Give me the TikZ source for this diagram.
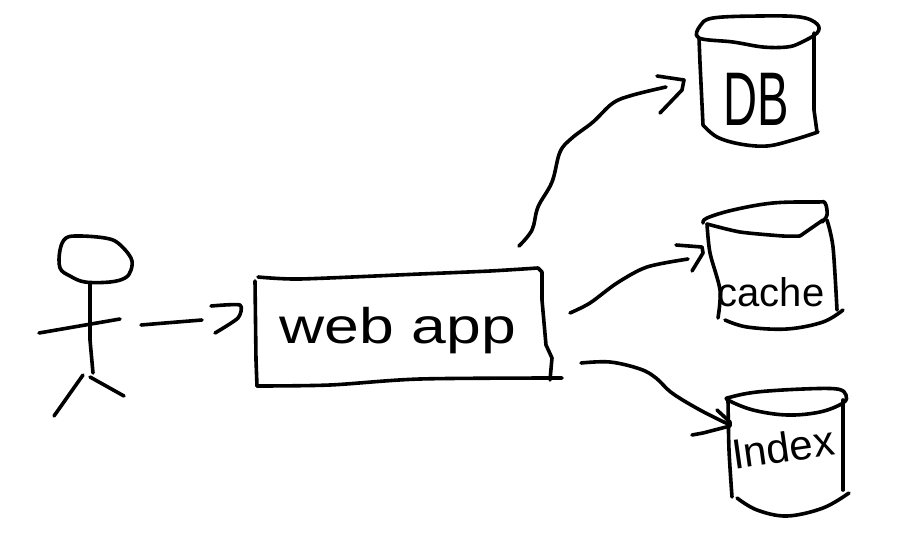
\documentclass[tikz,border=0pt]{standalone}
\usepackage{fontspec}
\setmainfont{Liberation Sans}
\tikzset{
    sketch/.style={black, line width=3.6pt, line cap=round, line join=round},
    label/.style={inner sep=0pt, text=black, anchor=base}
}
\begin{document}
\begin{tikzpicture}[x=1pt, y=-1pt]
            \useasboundingbox (0, 0) rectangle (918, 554);
            \node[label, font=\fontsize{50}{50}\selectfont, xscale=1.25] (webapp) at (398, 343) {web app};
            \node[label, font=\fontsize{76}{76}\selectfont, xscale=0.62] (db) at (756, 125) {DB};
            \node[label, font=\fontsize{40}{40}\selectfont] (cache) at (771, 306) {cache};
            \node[label, font=\fontsize{42}{42}\selectfont, rotate=8] (index) at (785, 462) {Index};
            \coordinate (userout) at (141, 325);
            \coordinate (appin) at (202, 320);
            \coordinate (appdb) at (519, 246);
            \coordinate (dbin) at (666, 87);
            \coordinate (appcache) at (570, 313);
            \coordinate (cachein) at (688, 259);
            \coordinate (appindex) at (581, 363);
            \coordinate (indexin) at (730, 425);
            \draw[sketch] plot[smooth cycle, tension=0.6] coordinates {(66, 238) (80, 236) (105, 238) (118, 243) (131, 258) (131, 270) (125, 278) (110, 282) (85, 282) (70, 276) (60, 268) (60, 250)};
            \draw[sketch] (90, 283) -- (90, 340) -- (93, 373);
            \draw[sketch] (39, 333) -- (120, 319);
            \draw[sketch] (83, 375) -- (54, 416);
            \draw[sketch] (90, 377) -- (124, 396);
            \draw[sketch] (255, 281) -- (256, 360) -- (257, 386);
            \draw[sketch] plot[smooth, tension=0.5] coordinates {(257, 386) (330, 385) (420, 379) (562, 378)};
            \draw[sketch] plot[smooth, tension=0.4] coordinates {(258, 277) (300, 279) (420, 274) (490, 271) (538, 268)};
            \draw[sketch] (538, 268) -- (542, 272) -- (542, 300) -- (546, 345) -- (552, 358) -- (550, 380);
            \draw[sketch] plot[smooth cycle, tension=0.6] coordinates {(699, 38) (700, 26) (713, 18) (760, 16) (800, 17) (817, 24) (817, 33) (800, 43) (787, 47) (763, 47) (733, 42)};
            \draw[sketch] (699, 38) -- (700, 63) -- (703, 125);
            \draw[sketch] plot[smooth, tension=0.6] coordinates {(703, 125) (717, 137) (740, 144) (767, 146) (793, 140) (818, 132)};
            \draw[sketch] (814, 33) -- (814, 110) -- (817, 132);
            \draw[sketch] plot[smooth, tension=0.6] coordinates {(703, 223) (707, 218) (733, 210) (773, 203) (817, 202) (825, 203) (827, 215) (822, 222)};
            \draw[sketch] plot[smooth, tension=0.4] coordinates {(707, 224) (740, 232) (783, 236) (800, 236)};
            \draw[sketch] (800, 236) -- (823, 220);
            \draw[sketch] plot[smooth, tension=0.5] coordinates {(707, 224) (710, 253) (720, 290) (718, 318)};
            \draw[sketch] plot[smooth, tension=0.5] coordinates {(827, 220) (833, 247) (837, 310)};
            \draw[sketch] plot[smooth, tension=0.6] coordinates {(725, 320) (747, 327) (787, 329) (823, 322) (843, 310)};
            \draw[sketch] plot[smooth cycle, tension=0.6] coordinates {(728, 400) (731, 397) (757, 392) (803, 389) (837, 389) (846, 395) (843, 403) (820, 412) (787, 415) (753, 410)};
            \draw[sketch] plot[smooth, tension=0.5] coordinates {(728, 400) (729, 450) (732, 497)};
            \draw[sketch] (843, 400) -- (843, 490);
            \draw[sketch] plot[smooth, tension=0.6] coordinates {(737, 498) (757, 510) (787, 516) (823, 508) (849, 493)};
            \draw[sketch] (userout) -- (165, 323) -- (appin);
            \draw[sketch] plot[smooth, tension=0.4] coordinates {(211, 306) (240, 305) (238, 318) (215, 333)};
            \draw[sketch] plot[smooth, tension=0.6] coordinates {(appdb) (532, 230) (538, 207) (552, 182) (560, 152) (572, 138) (593, 122) (613, 103) (633, 95) (dbin)};
            \draw[sketch] (657, 76) -- (684, 80) -- (682, 90) -- (660, 113);
            \draw[sketch] plot[smooth, tension=0.5] coordinates {(appcache) (590, 303) (617, 283) (647, 267) (cachein)};
            \draw[sketch] (676, 245) -- (702, 247) -- (703, 253) -- (692, 271);
            \draw[sketch] plot[smooth, tension=0.6] coordinates {(appindex) (610, 362) (640, 369) (656, 378) (672, 393) (700, 410) (indexin)};
            \draw[sketch] (717, 410) -- (730, 422) -- (730, 426) -- (703, 433) -- (692, 435);
        \end{tikzpicture}
\end{document}
